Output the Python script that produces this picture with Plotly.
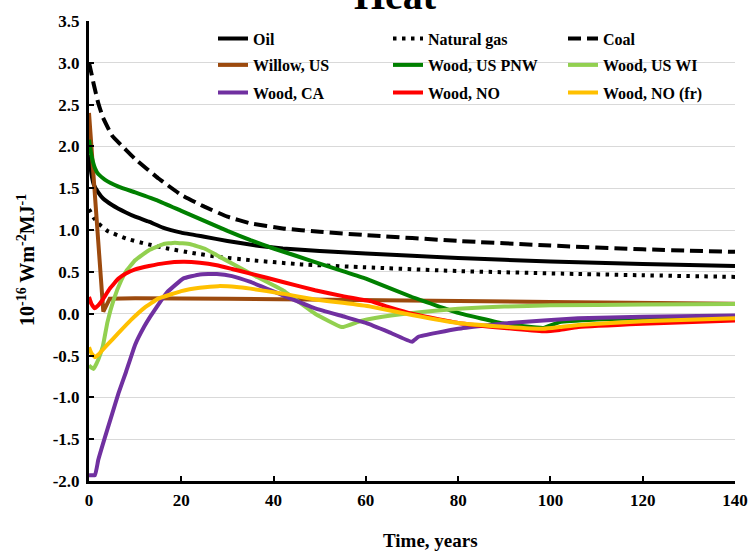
import plotly.graph_objects as go

# ---------------- data ----------------
oil_t = [0, 0.5, 1, 2, 3, 5, 8, 10, 13, 16, 20, 25, 30, 37, 42, 50, 60, 80, 100, 120, 140]
oil_v = [1.9, 1.68, 1.55, 1.45, 1.38, 1.3, 1.21, 1.16, 1.1, 1.03, 0.97, 0.92, 0.87, 0.81, 0.78, 0.75, 0.72, 0.665, 0.625, 0.595, 0.57]

gas_t = [0, 0.5, 1, 2, 4, 8, 12, 17, 22, 28, 35, 46, 60, 80, 106, 120, 140]
gas_v = [1.25, 1.2, 1.15, 1.08, 0.99, 0.9, 0.84, 0.78, 0.73, 0.68, 0.64, 0.59, 0.555, 0.51, 0.475, 0.46, 0.44]

coal_t = [0, 0.5, 1, 2, 3, 5, 8, 10, 15, 20, 25, 30, 35, 42, 50, 60, 80, 100, 120, 140]
coal_v = [3.0, 2.88, 2.75, 2.52, 2.35, 2.13, 1.96, 1.85, 1.62, 1.42, 1.28, 1.16, 1.08, 1.02, 0.98, 0.94, 0.87, 0.815, 0.77, 0.74]

willow_t = [0, 3.1, 4.5, 10, 30, 60, 100, 140]
willow_v = [2.4, 0.025, 0.18, 0.185, 0.18, 0.16, 0.14, 0.12]

pnw_t = [0, 0.5, 1.3, 2, 3.5, 6.4, 10, 15, 20, 25, 30, 35, 40, 45, 50, 55, 60, 70, 80, 90, 98.5, 102, 110, 120, 140]
pnw_v = [2.08, 1.9, 1.74, 1.67, 1.6, 1.52, 1.45, 1.35, 1.23, 1.11, 0.99, 0.88, 0.78, 0.69, 0.6, 0.51, 0.42, 0.2, 0.01, -0.12, -0.17, -0.1, -0.07, -0.05, -0.03]

wi_t = [0, 1, 2, 3, 4, 5.3, 7, 8.2, 10, 13, 16, 18.6, 22, 25, 27.7, 31, 35, 42, 49, 54.8, 58.7, 62, 70, 80, 90, 100, 120, 140]
wi_v = [-0.62, -0.66, -0.55, -0.39, -0.1, 0.16, 0.4, 0.52, 0.64, 0.76, 0.83, 0.85, 0.83, 0.78, 0.7, 0.6, 0.48, 0.28, 0.0, -0.16, -0.09, -0.05, 0.01, 0.06, 0.085, 0.1, 0.11, 0.115]

ca_t = [0, 1.3, 2, 3.5, 5, 6.4, 8, 10, 12, 13.2, 15.4, 17, 20.4, 24, 27.7, 31, 35, 42, 49, 55, 60, 65, 70, 71.4, 80, 91, 106, 120, 140]
ca_v = [-1.93, -1.93, -1.75, -1.47, -1.2, -0.95, -0.7, -0.37, -0.15, -0.04, 0.14, 0.26, 0.42, 0.47, 0.475, 0.45, 0.38, 0.22, 0.065, -0.03, -0.11, -0.22, -0.335, -0.275, -0.18, -0.11, -0.055, -0.035, -0.02]

no_t = [0, 0.5, 1.2, 2, 3, 4.5, 6.4, 8, 10, 13, 16.5, 20.4, 24, 27.7, 31, 35, 42, 49, 55, 61, 65, 70, 80, 90, 98.5, 102, 106, 120, 140]
no_v = [0.2, 0.12, 0.065, 0.1, 0.17, 0.3, 0.42, 0.48, 0.53, 0.57, 0.605, 0.62, 0.61, 0.58, 0.535, 0.48, 0.38, 0.28, 0.21, 0.15, 0.08, 0.0, -0.11, -0.17, -0.21, -0.195, -0.16, -0.12, -0.08]

nofr_t = [0, 0.5, 1.3, 2, 4, 6.4, 9, 12, 15, 20, 24, 28, 32, 35, 42, 49, 55, 61, 70, 80, 90, 98.5, 102, 106, 120, 140]
nofr_v = [-0.4, -0.47, -0.52, -0.49, -0.37, -0.23, -0.08, 0.07, 0.18, 0.27, 0.31, 0.33, 0.32, 0.3, 0.24, 0.17, 0.13, 0.085, -0.015, -0.11, -0.155, -0.18, -0.16, -0.135, -0.09, -0.055]

y_tickvals = [-2.0, -1.5, -1.0, -0.5, 0.0, 0.5, 1.0, 1.5, 2.0, 2.5, 3.0, 3.5]
y_ticktext = ["-2.0", "-1.5", "-1.0", "-0.5", "0.0", "0.5", "1.0", "1.5", "2.0", "2.5", "3.0", "3.5"]
x_tickvals = [0, 20, 40, 60, 80, 100, 120, 140]
x_ticktext = ["0", "20", "40", "60", "80", "100", "120", "140"]

# name, t, v, color, dash, width, shape, legend row
series = [
    ("Oil", oil_t, oil_v, "#000000", "solid", 4, "spline", "legend"),
    ("Natural gas", gas_t, gas_v, "#000000", "3.5px,5.5px", 4, "spline", "legend"),
    ("Coal", coal_t, coal_v, "#000000", "13px,6px", 4, "spline", "legend"),
    ("Willow, US", willow_t, willow_v, "#9C4A0E", "solid", 4, "linear", "legend2"),
    ("Wood, US PNW", pnw_t, pnw_v, "#008000", "solid", 4, "spline", "legend2"),
    ("Wood, US WI", wi_t, wi_v, "#92D050", "solid", 4, "spline", "legend2"),
    ("Wood, CA", ca_t, ca_v, "#7030A0", "solid", 4, "spline", "legend3"),
    ("Wood, NO", no_t, no_v, "#FF0000", "solid", 4, "spline", "legend3"),
    ("Wood, NO (fr)", nofr_t, nofr_v, "#FFC000", "solid", 4, "spline", "legend3"),
]

FONT = "Liberation Serif, Times New Roman, serif"
W, H = 748, 552
L, R, T, B = 89, 13, 21, 71
PW, PH = W - L - R, H - T - B

fig = go.Figure()
for name, t, v, color, dash, width, shape, leg in series:
    line = dict(color=color, width=width, dash=dash, shape=shape)
    if shape == "spline":
        line["smoothing"] = 0.3
    fig.add_trace(go.Scatter(x=t, y=v, mode="lines", name=name, line=line, legend=leg))

legend_font = dict(family=FONT, size=16, color="black", weight="bold")
row_y = [38.5, 65, 92.5]
def leg(py):
    return dict(orientation="h", xref="container", yref="container",
                x=213 / W, xanchor="left", y=1 - py / H, yanchor="middle",
                bgcolor="rgba(0,0,0,0)", borderwidth=0,
                entrywidth=130, entrywidthmode="pixels",
                font=legend_font, traceorder="normal")

fig.update_layout(
    width=W, height=H,
    margin=dict(l=L, r=R, t=T, b=B, autoexpand=False),
    paper_bgcolor="white", plot_bgcolor="white",
    font=dict(family=FONT, size=16, color="black", weight="bold"),
    showlegend=True,
    legend=leg(row_y[0]), legend2=leg(row_y[1]), legend3=leg(row_y[2]),
    shapes=[dict(type="rect", xref="paper", yref="paper",
                 x0=(208 - L) / PW, x1=1.0, y0=1 - (118 - T) / PH, y1=1 - (25 - T) / PH,
                 fillcolor="white", line=dict(width=0), layer="between")],
    annotations=[
        dict(text="Heat", xref="paper", yref="paper", x=(395 - L) / PW, y=1 + (T + 4) / PH,
             xanchor="center", yanchor="middle", showarrow=False,
             font=dict(family=FONT, size=40, color="black", weight="bold")),
        dict(text="Time, years", xref="paper", yref="paper", x=(430 - L) / PW, y=-(540 - 481) / PH,
             xanchor="center", yanchor="middle", showarrow=False,
             font=dict(family=FONT, size=19, color="black", weight="bold")),
        dict(text="10<sup>-16</sup> Wm<sup>-2</sup>MJ<sup>-1</sup>", xref="paper", yref="paper",
             x=(26 - L) / PW, y=1 - (260 - T) / PH, textangle=-90,
             xanchor="center", yanchor="middle", showarrow=False,
             font=dict(family=FONT, size=20, color="black", weight="bold")),
    ],
)

tickfont = dict(family=FONT, size=17, color="black", weight="bold")
fig.update_xaxes(
    range=[0, 140], tickvals=x_tickvals, ticktext=x_ticktext,
    showgrid=False, zeroline=False, automargin=False,
    showline=True, linecolor="black", linewidth=3,
    ticks="inside", ticklen=5, tickwidth=2, tickcolor="black",
    ticklabelstandoff=2, tickfont=tickfont,
)
fig.update_yaxes(
    range=[-2.0, 3.5], tickvals=y_tickvals, ticktext=y_ticktext,
    showgrid=True, gridcolor="#d9d9d9", gridwidth=1, zeroline=False, automargin=False,
    showline=True, linecolor="black", linewidth=3,
    ticks="inside", ticklen=5, tickwidth=2, tickcolor="black",
    ticklabelstandoff=3, tickfont=tickfont,
)

fig.write_html("out.html", config={"displayModeBar": False},
               post_script="document.body.style.margin='0';")
